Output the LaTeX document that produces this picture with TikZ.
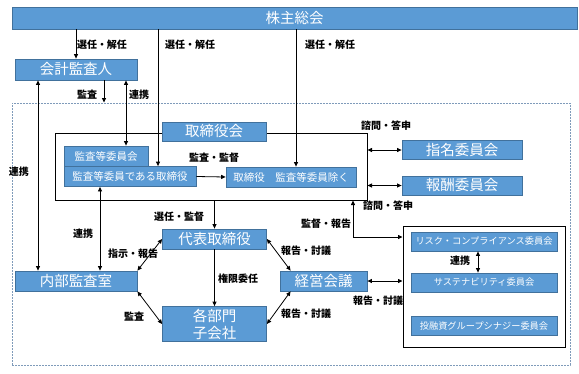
\documentclass[tikz,border=0pt]{standalone}
\usepackage{fontspec}
\setmainfont{Noto Sans CJK JP}
\usepackage{xcolor}
\usepackage{tikz}
\usetikzlibrary{arrows.meta}
\definecolor{boxblue}{HTML}{5B9BD5}
\definecolor{boxedge}{HTML}{41719C}
\definecolor{dashblue}{HTML}{7F9BBA}

\tikzset{
  bluebox/.style={fill=boxblue, draw=boxedge, line width=0.8pt, text=white, inner sep=0pt,
                  font=\fontsize{14.5}{17}\selectfont},
  smallbox/.style={bluebox, font=\fontsize{10.5}{12}\selectfont},
  tinybox/.style={bluebox, font=\fontsize{9.2}{11}\selectfont},
  framebox/.style={draw=black, line width=1pt, inner sep=0pt},
  lbl/.style={font=\bfseries\fontsize{10}{11}\selectfont, inner sep=0pt},
  arr/.style={draw=black, line width=0.8pt, -{Triangle[length=4.5pt,width=4pt]}},
  darr/.style={draw=black, line width=0.8pt, {Triangle[length=4.5pt,width=4pt]}-{Triangle[length=4.5pt,width=4pt]}}
}

\begin{document}
\begin{tikzpicture}[x=1pt,y=-1pt]
  \useasboundingbox (0,0) rectangle (579,373);
  % outer frame
  \node[draw=dashblue, dash pattern=on 2pt off 1pt, line width=0.9pt, inner sep=0pt,
        minimum width=558, minimum height=262] (org) at (291,234) {};

  \node[bluebox, minimum width=565, minimum height=22] (gm) at (294.5,18) {株主総会};
  \node[bluebox, minimum width=122, minimum height=21] (auditor) at (76,69.5) {会計監査人};

  % board
  \node[framebox, minimum width=312, minimum height=67] (bframe) at (211,166.5) {};
  \node[bluebox, minimum width=104, minimum height=19] (board) at (214,131.5) {取締役会};
  \node[smallbox, minimum width=84, minimum height=20] (acom) at (106,156) {監査等委員会};
  \node[smallbox, minimum width=132, minimum height=20] (adir) at (130,176.5) {監査等委員である取締役};
  \node[smallbox, minimum width=130, minimum height=20] (odir) at (291,177) {取締役　監査等委員除く};
  \node[bluebox, minimum width=120, minimum height=19] (nomc) at (462,150) {指名委員会};
  \node[bluebox, minimum width=120, minimum height=19] (remc) at (462,185.5) {報酬委員会};

  % execution
  \node[bluebox, minimum width=104, minimum height=20] (ceo) at (214.5,239) {代表取締役};
  \node[bluebox, minimum width=87, minimum height=20] (mgmt) at (323.5,281) {経営会議};
  \node[bluebox, minimum width=104, minimum height=35, align=center] (dept) at (214.5,324) {各部門\\子会社};
  \node[bluebox, minimum width=122, minimum height=20] (iaudit) at (76,281) {内部監査室};

  % committees
  \node[framebox, minimum width=162, minimum height=121] (gframe) at (484,286.5) {};
  \node[tinybox, minimum width=146, minimum height=19] (risk) at (484,241.5) {リスク・コンプライアンス委員会};
  \node[tinybox, minimum width=146, minimum height=19] (sust) at (484,282.5) {サステナビリティ委員会};
  \node[tinybox, minimum width=146, minimum height=19] (syn) at (484,326) {投融資グループシナジー委員会};

  \coordinate (xa) at (158,0);
  \coordinate (xb) at (296,0);
  \coordinate (xc) at (104,0);
  \coordinate (xd) at (126,0);
  \coordinate (xe) at (38,0);
  \coordinate (xf) at (100,0);
  \coordinate (sup) at (353,237);

  \draw[arr] (gm.south -| auditor.north) -- (auditor.north);
  \draw[arr] (gm.south -| xa) -- (adir.north -| xa);
  \draw[arr] (gm.south -| xb) -- (odir.north -| xb);
  \draw[arr] (auditor.south -| xc) -- (org.north -| xc);
  \draw[darr] (auditor.south -| xd) -- (acom.north -| xd);
  \draw[darr] (auditor.south -| xe) -- (iaudit.north -| xe);
  \draw[darr] (adir.south -| xf) -- (iaudit.north -| xf);
  \draw[arr] (adir.east) -- (odir.west);
  \draw[darr] (bframe.east |- nomc.west) -- (nomc.west);
  \draw[darr] (bframe.east |- remc.west) -- (remc.west);
  \draw[arr] (bframe.south -| ceo.north) -- (ceo.north);
  \draw[darr] (bframe.south -| sup) |- (gframe.west |- sup);
  \draw[darr] (mgmt.east) -- (gframe.west |- mgmt.east);
  \draw[darr] (ceo.east) -- ([xshift=11pt]mgmt.north west);
  \draw[darr] ([xshift=11pt]mgmt.south west) -- (dept.east);
  \draw[arr] (ceo.south) -- (dept.north);
  \draw[darr] (iaudit.north east) -- (ceo.west);
  \draw[darr] (iaudit.south east) -- (dept.west);
  \draw[darr] ([xshift=-6pt]risk.south) -- ([xshift=-6pt]sust.north);

  % labels
  \node[lbl] (t1) at (102,45) {選任・解任};
  \node[lbl] (t2) at (190,45) {選任・解任};
  \node[lbl] (t3) at (330,45) {選任・解任};
  \node[lbl] (t4) at (87,95) {監査};
  \node[lbl] (t5) at (139,95) {連携};
  \node[lbl] (t6) at (19,172) {連携};
  \node[lbl] (t7) at (214,158) {監査・監督};
  \node[lbl] (t8) at (386,126) {諮問・答申};
  \node[lbl] (t9) at (388,206) {諮問・答申};
  \node[lbl] (t10) at (326,224) {監督・報告};
  \node[lbl] (t11) at (179,217) {選任・監督};
  \node[lbl] (t12) at (83,234) {連携};
  \node[lbl] (t13) at (133,254) {指示・報告};
  \node[lbl] (t14) at (238,279) {権限委任};
  \node[lbl] (t15) at (134,317) {監査};
  \node[lbl] (t16) at (306,251) {報告・討議};
  \node[lbl] (t17) at (306,314) {報告・討議};
  \node[lbl] (t18) at (378,301) {報告・討議};
  \node[lbl] (t19) at (460,261) {連携};
\end{tikzpicture}
\end{document}
